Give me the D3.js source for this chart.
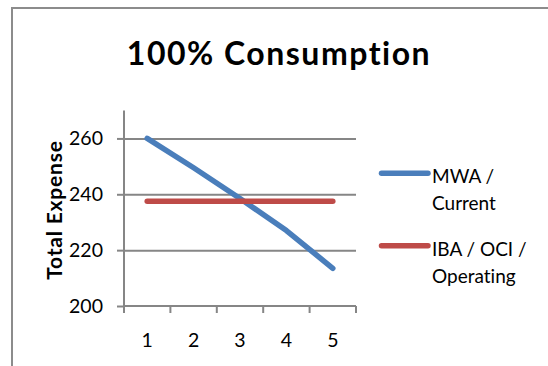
<!DOCTYPE html>
<html>
<head>
<meta charset="utf-8">
<script src="https://cdn.jsdelivr.net/npm/d3@7"></script>
<style>
  html, body { margin: 0; padding: 0; background: #fff; }
  svg { display: block; font-family: Lato, "Open Sans", sans-serif; font-variant-ligatures: none; }
</style>
</head>
<body>
<svg id="chart" width="548" height="366"></svg>
<script>
// Chart data
const categories = [1, 2, 3, 4, 5];
const mwaCurrent = [260, 249.5, 238.5, 227, 213.5];
const ibaOperating = [237.5, 237.5, 237.5, 237.5, 237.5];
const yTicks = [200, 220, 240, 260];
const seriesNames = [["MWA /", "Current"], ["IBA / OCI /", "Operating"]];
const seriesColors = ["#4A7EBB", "#BE4B48"];

const svg = d3.select("#chart");
const gridColor = "#868686";

// Frame (top and left edges of the chart area)
svg.append("path")
  .attr("d", "M12,366 L12,8 L548,8")
  .attr("fill", "none")
  .attr("stroke", "#8c8c8c")
  .attr("stroke-width", 2);

// Title
svg.append("text")
  .attr("x", 279)
  .attr("y", 65)
  .attr("text-anchor", "middle")
  .attr("font-weight", "bold")
  .attr("font-size", 32)
  .attr("letter-spacing", 1.5)
  .attr("fill", "#000")
  .text("100% Consumption");

const plot = { left: 124, right: 356, top: 110.5, bottom: 306 };

const x = d3.scaleBand()
  .domain(categories)
  .range([plot.left, plot.right])
  .paddingInner(0).paddingOuter(0);

const y = d3.scaleLinear()
  .domain([200, 270])
  .range([plot.bottom, plot.top]);

// Horizontal gridlines
const grid = svg.append("g")
  .attr("transform", `translate(${plot.left},0)`)
  .call(d3.axisLeft(y).tickValues(yTicks.slice(1)).tickSize(-(plot.right - plot.left)).tickFormat(""));
grid.select(".domain").remove();
grid.selectAll("line").attr("stroke", gridColor).attr("stroke-width", 2);

// Y axis with labels
const yAxis = svg.append("g")
  .attr("transform", `translate(${plot.left},0)`)
  .call(d3.axisLeft(y).tickValues(yTicks).tickSize(7).tickPadding(14).tickSizeOuter(0));
yAxis.select(".domain")
  .attr("d", `M0,${plot.top}V${plot.bottom + 6.5}`)
  .attr("stroke", gridColor).attr("stroke-width", 2);
yAxis.selectAll(".tick line").attr("stroke", gridColor).attr("stroke-width", 2);
yAxis.selectAll(".tick text")
  .attr("font-size", 19.5).attr("fill", "#000")
  .attr("font-family", "Lato, sans-serif");

// X axis: tick marks at category boundaries, labels at category centers
const boundaries = categories.map(c => x(c)).concat([plot.right]);
const xAxis = svg.append("g");
xAxis.append("line")
  .attr("x1", plot.left).attr("x2", plot.right)
  .attr("y1", plot.bottom).attr("y2", plot.bottom)
  .attr("stroke", gridColor).attr("stroke-width", 2);
xAxis.selectAll("line.tk").data(boundaries).join("line")
  .attr("class", "tk")
  .attr("x1", d => d).attr("x2", d => d)
  .attr("y1", plot.bottom).attr("y2", plot.bottom + 7)
  .attr("stroke", gridColor).attr("stroke-width", 2);
xAxis.selectAll("text").data(categories).join("text")
  .attr("x", d => x(d) + x.bandwidth() / 2)
  .attr("y", 347)
  .attr("text-anchor", "middle")
  .attr("font-size", 19.5)
  .attr("fill", "#000")
  .text(d => d);

// Y axis title
svg.append("text")
  .attr("transform", "translate(62,210) rotate(-90)")
  .attr("text-anchor", "middle")
  .attr("font-weight", "bold")
  .attr("font-size", 21)
  .attr("letter-spacing", 0.8)
  .attr("fill", "#000")
  .text("Total Expense");

// Series lines
const line = d3.line()
  .x((d, i) => x(categories[i]) + x.bandwidth() / 2)
  .y(d => y(d));

[mwaCurrent, ibaOperating].forEach((vals, i) => {
  svg.append("path")
    .datum(vals)
    .attr("d", line)
    .attr("fill", "none")
    .attr("stroke", seriesColors[i])
    .attr("stroke-width", 5.5)
    .attr("stroke-linecap", "round")
    .attr("stroke-linejoin", "round");
});

// Legend
const legendRows = [173.3, 245.7];
seriesNames.forEach((lines, i) => {
  const g = svg.append("g");
  g.append("line")
    .attr("x1", 381.5).attr("x2", 428)
    .attr("y1", legendRows[i]).attr("y2", legendRows[i])
    .attr("stroke", seriesColors[i])
    .attr("stroke-width", 5.5)
    .attr("stroke-linecap", "round");
  lines.forEach((t, j) => {
    g.append("text")
      .attr("x", 432)
      .attr("y", legendRows[i] + 10 + j * 27)
      .attr("font-size", 19)
      .attr("fill", "#000")
      .text(t);
  });
});
</script>
</body>
</html>
